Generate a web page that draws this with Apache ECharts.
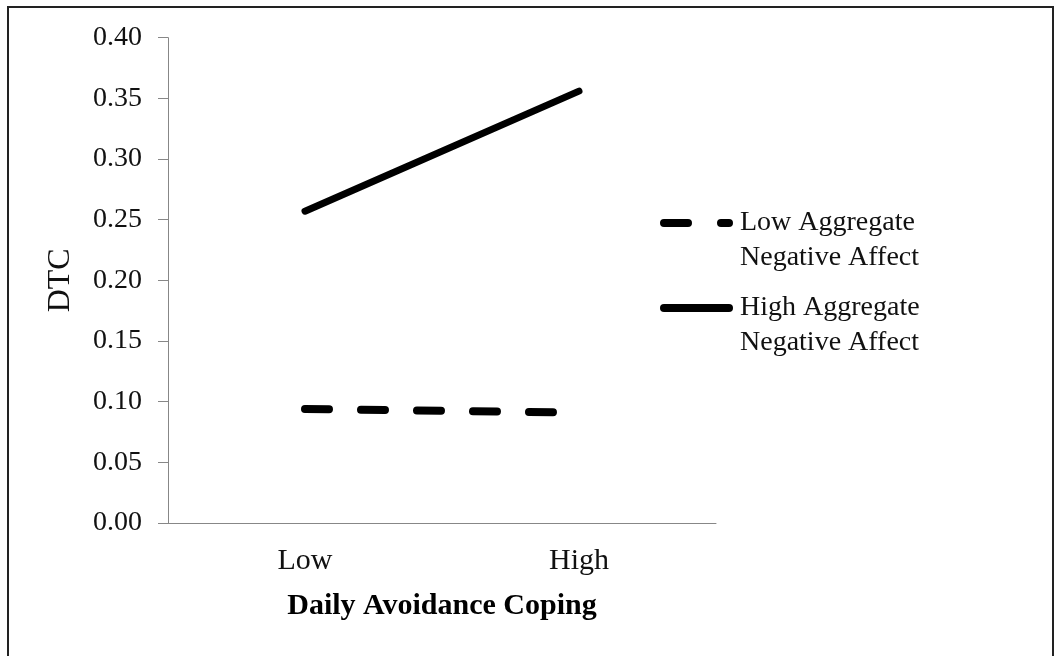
<!DOCTYPE html>
<html>
<head>
<meta charset="utf-8">
<script src="https://cdn.jsdelivr.net/npm/echarts@6/dist/echarts.min.js"></script>
<style>
html,body{margin:0;padding:0;background:#fff;}
#chart{width:1063px;height:656px;}
</style>
</head>
<body>
<div id="chart"></div>
<script>
const categories = ['Low', 'High'];
const seriesNames = ['Low Aggregate\nNegative Affect', 'High Aggregate\nNegative Affect'];
const lowAggregateNA = [0.094, 0.091];
const highAggregateNA = [0.257, 0.356];
const yMin = 0, yMax = 0.40, yStep = 0.05;
const xTitle = 'Daily Avoidance Coping';
const yTitle = 'DTC';

const FONT = '"Liberation Serif", "DejaVu Serif", serif';
const ICON_DASH = 'path://M4,0h24a4,4 0 0 1 0,8h-24a4,4 0 0 1 0,-8zM61,0h8a4,4 0 0 1 0,8h-8a4,4 0 0 1 0,-8z';
const ICON_SOLID = 'path://M4,0h65a4,4 0 0 1 0,8h-65a4,4 0 0 1 0,-8z';
const chart = echarts.init(document.getElementById('chart'), null, {renderer: 'canvas'});

function legendFor(name, icon, top) {
  return {
    data: [{name: name, icon: icon}],
    left: 660,
    top: top,
    orient: 'vertical',
    padding: 0,
    itemWidth: 73,
    itemHeight: 8,
    itemGap: 7,
    selectedMode: false,
    formatter: function (n) { return '\n' + n; },
    textStyle: {fontFamily: FONT, fontSize: 28, color: '#111', lineHeight: 35, padding: [0, 0, 0, 2]}
  };
}

chart.setOption({
  animation: false,
  backgroundColor: '#fff',
  graphic: [{
    type: 'rect',
    shape: {x: 8, y: 7, width: 1045, height: 660},
    style: {fill: 'none', stroke: '#222', lineWidth: 2},
    silent: true
  }],
  grid: {left: 168, right: 347, top: 37.7, bottom: 133, containLabel: false},
  legend: [legendFor(seriesNames[0], ICON_DASH, 223 - 52.5), legendFor(seriesNames[1], ICON_SOLID, 308 - 52.5)],
  xAxis: {
    type: 'category',
    data: categories,
    boundaryGap: true,
    name: xTitle,
    nameLocation: 'middle',
    nameGap: 68,
    nameTextStyle: {fontFamily: FONT, fontSize: 30, fontWeight: 'bold', color: '#000'},
    axisLine: {lineStyle: {color: '#878787', width: 1}},
    axisTick: {show: false},
    axisLabel: {fontFamily: FONT, fontSize: 30, color: '#111', margin: 23}
  },
  yAxis: {
    type: 'value',
    min: yMin,
    max: yMax,
    interval: yStep,
    name: yTitle,
    nameLocation: 'middle',
    nameRotate: 90,
    nameGap: 91,
    nameTextStyle: {fontFamily: FONT, fontSize: 32, color: '#111'},
    splitLine: {show: false},
    axisLine: {show: true, lineStyle: {color: '#878787', width: 1}},
    axisTick: {show: true, length: 10, lineStyle: {color: '#878787'}},
    axisLabel: {fontFamily: FONT, fontSize: 28, color: '#111', margin: 26,
      formatter: function (v) { return v.toFixed(2); }}
  },
  series: [{
    name: seriesNames[0],
    type: 'line',
    data: lowAggregateNA,
    symbol: 'none',
    lineStyle: {color: '#000', width: 8, type: [24, 32], cap: 'round'},
    itemStyle: {color: '#000'}
  }, {
    name: seriesNames[1],
    type: 'line',
    data: highAggregateNA,
    symbol: 'none',
    lineStyle: {color: '#000', width: 7, type: 'solid', cap: 'round'},
    itemStyle: {color: '#000'}
  }]
});
</script>
</body>
</html>
